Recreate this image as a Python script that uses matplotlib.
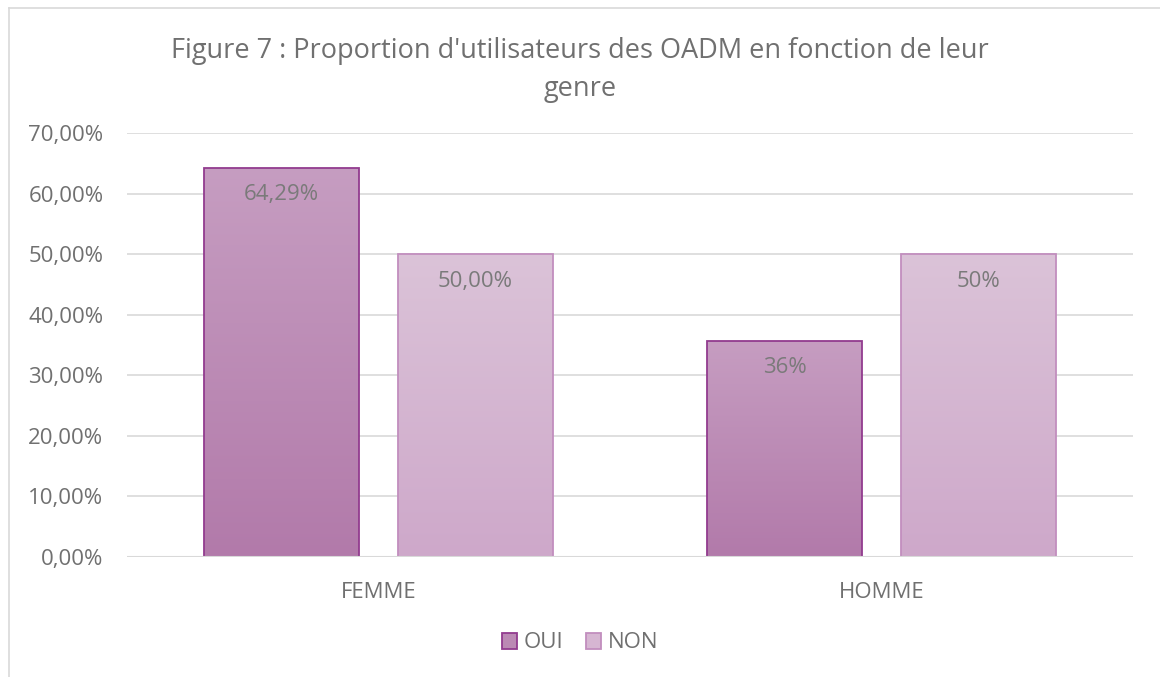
import numpy as np
import matplotlib.pyplot as plt
from matplotlib.colors import LinearSegmentedColormap
from matplotlib.patches import Patch, Rectangle
from matplotlib.lines import Line2D

categories = ["FEMME", "HOMME"]
oui_values = [64.29, 35.71]
non_values = [50.0, 50.0]
oui_labels = ["64,29%", "36%"]
non_labels = ["50,00%", "50%"]
yticks = [0, 10, 20, 30, 40, 50, 60, 70]

plt.rcParams["font.family"] = ["Open Sans", "DejaVu Sans"]
TXT = "#707070"

fig = plt.figure(figsize=(11.6, 6.77), dpi=100)
ax = fig.add_axes([127 / 1160, 1 - 557 / 677, 1006 / 1160, 424 / 677])

# outer chart border (left/top visible in the reference)
fig.add_artist(Line2D([9 / 1160, 9 / 1160], [0, 1 - 8 / 677], transform=fig.transFigure,
                      color="#d9d9d9", lw=1.2))
fig.add_artist(Line2D([9 / 1160, 1], [1 - 8 / 677, 1 - 8 / 677], transform=fig.transFigure,
                      color="#d9d9d9", lw=1.2))

x = np.arange(len(categories))
width = 0.308
offset = 0.1925

series = [
    (oui_values, oui_labels, -offset, "#c69dc1", "#b27aaa", "#923b8f", "OUI"),
    (non_values, non_labels, offset, "#dbc3d8", "#cea8ca", "#c28ebe", "NON"),
]

for vals, labels, off, ctop, cbot, edge, name in series:
    cmap = LinearSegmentedColormap.from_list(name, [cbot, ctop])
    grad = np.linspace(0, 1, 256).reshape(-1, 1)
    bars = ax.bar(x + off, vals, width, color="none", edgecolor=edge, lw=1.3, zorder=3)
    for b, lab in zip(bars, labels):
        x0, w, h = b.get_x(), b.get_width(), b.get_height()
        im = ax.imshow(grad, cmap=cmap, origin="lower", aspect="auto",
                       extent=[x0, x0 + w, 0, h], zorder=2)
        clip = Rectangle((x0, 0), w, h, transform=ax.transData)
        im.set_clip_path(clip)
        ax.annotate(lab, (x0 + w / 2, h), xytext=(0, -27), textcoords="offset pixels",
                    ha="center", va="center", fontsize=16, color="#7a7a7a", zorder=4)

ax.set_xlim(-0.5, 1.5)
ax.set_ylim(0, 70)
ax.set_yticks(yticks)
ax.set_yticklabels([f"{v:.2f}%".replace(".", ",") for v in yticks])
ax.set_xticks(x)
ax.set_xticklabels(categories)
ax.grid(axis="y", color="#d9d9d9", lw=1.2, zorder=0)
ax.set_axisbelow(True)
for s in ax.spines.values():
    s.set_visible(False)
ax.axhline(0, color="#d9d9d9", lw=1.5, zorder=5)
ax.tick_params(axis="both", length=0, labelsize=16, colors=TXT)
ax.tick_params(axis="y", pad=17)
ax.tick_params(axis="x", pad=18)

fig.text(0.5, 1 - 70 / 677,
         "Figure 7 : Proportion d'utilisateurs des OADM en fonction de leur\ngenre",
         ha="center", va="center", fontsize=19.5, color=TXT, linespacing=1.5)

handles = [Patch(facecolor="#bb89b4", edgecolor="#923b8f", lw=1.3, label="OUI"),
           Patch(facecolor="#d6b6d2", edgecolor="#c28ebe", lw=1.3, label="NON")]
leg = fig.legend(handles=handles, loc="center", bbox_to_anchor=(0.5, 1 - 643 / 677),
                 ncol=2, frameon=False, fontsize=16, handlelength=0.7, handleheight=0.7,
                 handletextpad=0.3, columnspacing=1.0)
for t in leg.get_texts():
    t.set_color(TXT)

fig.savefig("out.png", dpi=100)
